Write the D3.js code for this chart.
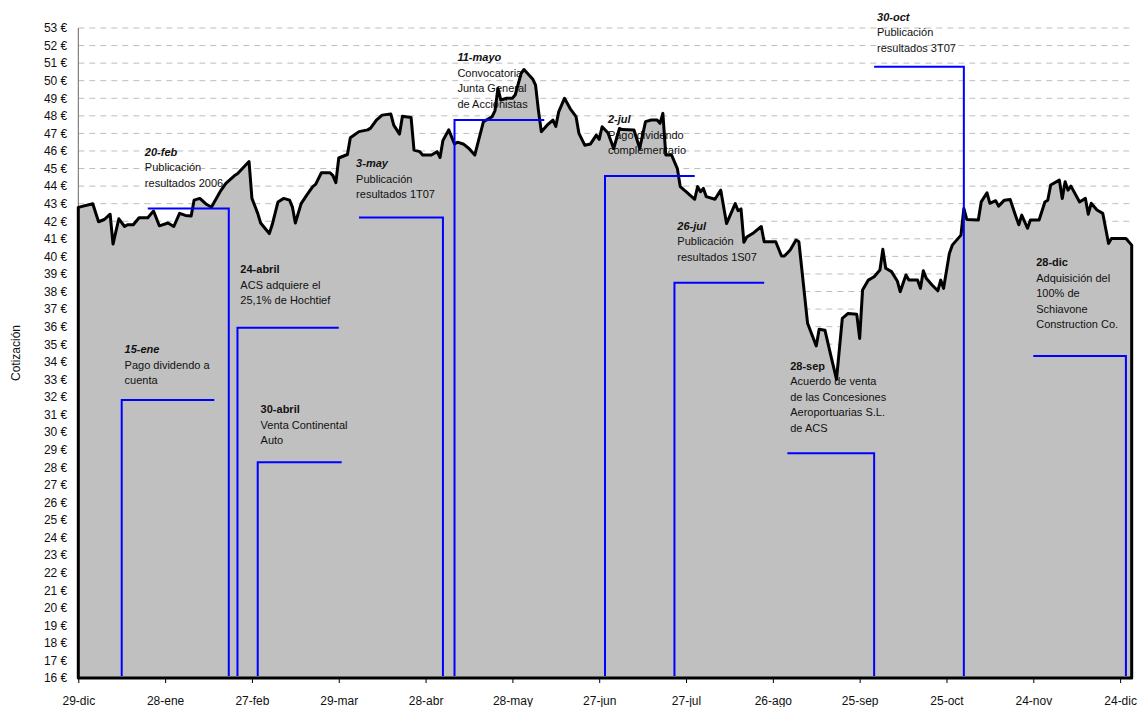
<!DOCTYPE html>
<html>
<head>
<meta charset="utf-8">
<script src="https://d3js.org/d3.v7.min.js"></script>
<style>
	body {margin: 0; background: #fff; }
	svg {display: block; font-family: "Liberation Sans", Arial, sans-serif; }
	.tick text {fill: #111; }
</style>
</head>
<body>
<svg id="chart" width="1138" height="707"></svg>
<script>
// ACS cotización, días desde el 29-dic-2006
const dayOffsets = [0,5,7,9,11,12,14,16,17,19,
	21,24,26,28,31,33,35,37,39,40,
	42,44,46,47,49,51,54,55,59,60,
	62,63,66,67,69,71,73,74,75,77,
	79,81,82,84,87,88,89,90,93,94,
	97,100,101,103,105,108,109,111,112,115,
	116,118,119,122,124,125,126,128,130,131,
	133,135,137,138,140,143,144,145,146,148,
	150,151,153,154,157,158,159,160,161,162,
	164,165,166,168,170,172,173,175,177,179,
	180,181,183,185,187,188,192,194,196,198,
	200,201,202,203,205,207,208,210,213,214,
	215,216,217,220,222,224,227,228,229,230,
	231,233,236,237,241,243,244,246,248,249,
	252,255,256,258,260,262,264,266,269,270,
	271,273,275,277,278,279,281,283,284,286,
	287,290,291,292,293,295,297,298,299,301,
	302,305,306,307,311,312,314,315,317,318,
	320,322,324,325,326,328,329,332,334,335,
	336,339,340,341,342,343,346,348,349,350,
	352,354,356,357,362,364];

const prices = [42.79,43.0,41.97,42.1,42.4,40.7,42.14,41.7,41.8,41.8,
	42.2,42.2,42.58,41.74,41.9,41.7,42.45,42.33,42.3,43.2,
	43.3,43.0,42.8,43.1,43.68,44.15,44.6,44.7,45.4,43.3,
	42.45,41.9,41.3,41.8,43.1,43.3,43.2,42.8,41.9,43.0,
	43.5,43.97,44.1,44.76,44.76,44.6,44.2,45.6,45.8,46.75,
	47.1,47.2,47.3,47.76,48.04,48.1,47.47,46.96,47.98,47.9,
	46.05,45.96,45.77,45.77,45.96,45.63,46.6,47.2,46.4,46.5,
	46.4,46.14,45.77,46.4,47.67,47.95,48.3,49.56,48.9,49.0,
	49.0,49.2,50.4,50.64,50.1,49.75,48.3,47.1,47.28,47.47,
	47.76,47.4,48.23,49.0,48.4,47.95,47.0,46.33,46.4,46.9,
	46.66,47.38,47.04,46.14,47.28,47.22,47.19,46.14,47.67,47.76,
	47.76,47.57,48.14,45.77,45.77,45.0,43.97,43.68,43.25,43.97,
	43.68,43.87,43.4,43.25,43.77,41.87,43.0,42.6,42.7,40.8,
	41.1,41.3,41.7,40.83,40.83,40.02,40.02,40.36,40.93,40.83,
	36.19,34.9,35.85,35.8,34.38,33.0,36.47,36.75,36.7,35.33,
	38.08,38.65,38.84,39.22,40.4,39.32,39.13,38.6,37.99,38.94,
	38.65,38.65,38.18,39.18,38.75,38.37,38.04,38.65,38.18,40.17,
	40.64,41.21,42.73,42.1,42.07,43.1,43.62,43.02,43.17,42.86,
	43.2,43.24,42.26,41.8,42.35,41.6,42.07,42.07,43.1,43.2,
	44.06,44.34,43.3,44.25,43.77,44.0,43.1,43.3,42.4,43.02,
	42.64,42.45,40.74,41.02,41.02,40.64];

const tickLabels = ["29-dic","28-ene","27-feb","29-mar","28-abr","28-may","27-jun",
	"27-jul","26-ago","25-sep","25-oct","24-nov","24-dic"];
const tickOffsets = [0,30,60,90,120,150,180,210,240,270,300,330,360];
const yTicks = d3.range(16, 54);

// anotaciones
const annoTitles = ["15-ene","20-feb","24-abril","30-abril","3-may","11-mayo",
	"2-jul","26-jul","28-sep","30-oct","28-dic"];
const annoTexts = [
	["Pago dividendo a","cuenta"],
	["Publicación","resultados 2006"],
	["ACS adquiere el","25,1% de Hochtief"],
	["Venta Continental","Auto"],
	["Publicación","resultados 1T07"],
	["Convocatoria","Junta General","de Accionistas"],
	["Pago dividendo","complementario"],
	["Publicación","resultados 1S07"],
	["Acuerdo de venta","de las Concesiones","Aeroportuarias S.L.","de ACS"],
	["Publicación","resultados 3T07"],
	["Adquisición del","100% de","Schiavone","Construction Co."]
];
const annoStem = [15.7,52.4,55.8,62.8,126.5,130.8,182.6,206.8,275.6,306.1,362.8];
const annoArm = [47.9,24.2,90.1,91.6,97.9,161.5,213.4,237.3,245.2,275.7,330.9];
const annoLevel = [31.82,42.73,35.94,28.28,42.22,47.76,44.57,38.5,28.8,50.79,34.33];
const annoLabelDay = [16.8,23.1,56.8,63.7,96.4,131.9,183.7,207.9,246.2,276.7,331.8];
const annoLabelPrice = [34.72,45.95,39.26,31.29,45.29,51.33,47.8,41.73,33.76,53.64,39.66];
const annoItalic = [true,true,false,false,true,true,true,true,false,true,false];

const svg = d3.select("#chart");
const start = new Date(2006, 11, 29);
const toDate = d => d3.timeDay.offset(start, d);

const data = dayOffsets.map((d, i) => ({date: toDate(d), value: prices[i]}));

const x = d3.scaleTime()
	.domain([start, toDate(364)])
	.range([78.3, 1131.7]);

const y = d3.scaleLinear()
	.domain([16, 53])
	.range([678, 28]);

// rejilla
svg.append("g")
	.selectAll("line")
	.data(yTicks.filter(v => v > 16))
	.enter()
	.append("line")
	.attr("x1", x.range()[0])
	.attr("x2", x.range()[1])
	.attr("y1", d => y(d))
	.attr("y2", d => y(d))
	.attr("stroke", "#bdbdbd")
	.attr("stroke-width", 1)
	.attr("stroke-dasharray", "6,5");

// eje vertical
svg.append("line")
	.attr("x1", x.range()[0]).attr("x2", x.range()[0])
	.attr("y1", y(53)).attr("y2", y(16))
	.attr("stroke", "#666");

const yAxis = svg.append("g")
	.attr("transform", `translate(${x.range()[0]},0)`)
	.call(d3.axisLeft(y).tickValues(yTicks).tickSize(0).tickPadding(11)
		.tickFormat(d => d + " €"));
yAxis.select(".domain").remove();
yAxis.selectAll("text").attr("font-size", "12px").attr("font-family", null);

const xAxis = svg.append("g")
	.attr("transform", `translate(0,${y(16)})`)
	.call(d3.axisBottom(x).tickValues(tickOffsets.map(toDate)).tickSize(5).tickPadding(13)
		.tickFormat((d, i) => tickLabels[i]));
xAxis.select(".domain").remove();
xAxis.selectAll("line").attr("stroke", "#000");
xAxis.selectAll("text").attr("font-size", "12px").attr("font-family", null);

svg.append("text")
	.attr("transform", `translate(20,${(y(16) + y(53)) / 2}) rotate(-90)`)
	.attr("text-anchor", "middle")
	.attr("font-size", "12px")
	.attr("fill", "#111")
	.text("Cotización");

// área
const area = d3.area()
	.x(d => x(d.date))
	.y0(y(16))
	.y1(d => y(d.value));

svg.append("path")
	.datum(data)
	.attr("fill", "#c0c0c0")
	.attr("d", area);

// textos de las anotaciones
const labels = svg.append("g").attr("font-size", "11px").attr("fill", "#111");
annoTitles.forEach((t, i) => {
	const tx = x(toDate(annoLabelDay[i]));
	const ty = y(annoLabelPrice[i]);
	const text = labels.append("text")
		.attr("x", tx)
		.attr("y", ty)
		.attr("dy", "0.36em");
	text.append("tspan")
		.attr("x", tx)
		.attr("font-weight", "bold")
		.attr("font-style", annoItalic[i] ? "italic" : "normal")
		.text(t);
	annoTexts[i].forEach(line => {
		text.append("tspan")
			.attr("x", tx)
			.attr("dy", 15.5)
			.text(line);
	});
});

svg.append("path")
	.datum(data)
	.attr("fill", "none")
	.attr("stroke", "#000")
	.attr("stroke-width", 3)
	.attr("stroke-linejoin", "round")
	.attr("d", area);

// líneas azules
svg.append("g")
	.selectAll("path")
	.data(annoTitles.map((t, i) => i))
	.enter()
	.append("path")
	.attr("fill", "none")
	.attr("stroke", "#0000ff")
	.attr("stroke-width", 2)
	.attr("d", i => {
		const sx = x(toDate(annoStem[i]));
		const ax = x(toDate(annoArm[i]));
		const ly = y(annoLevel[i]);
		return `M${ax},${ly}H${sx}V${y(16) - 2}`;
	});
</script>
</body>
</html>
